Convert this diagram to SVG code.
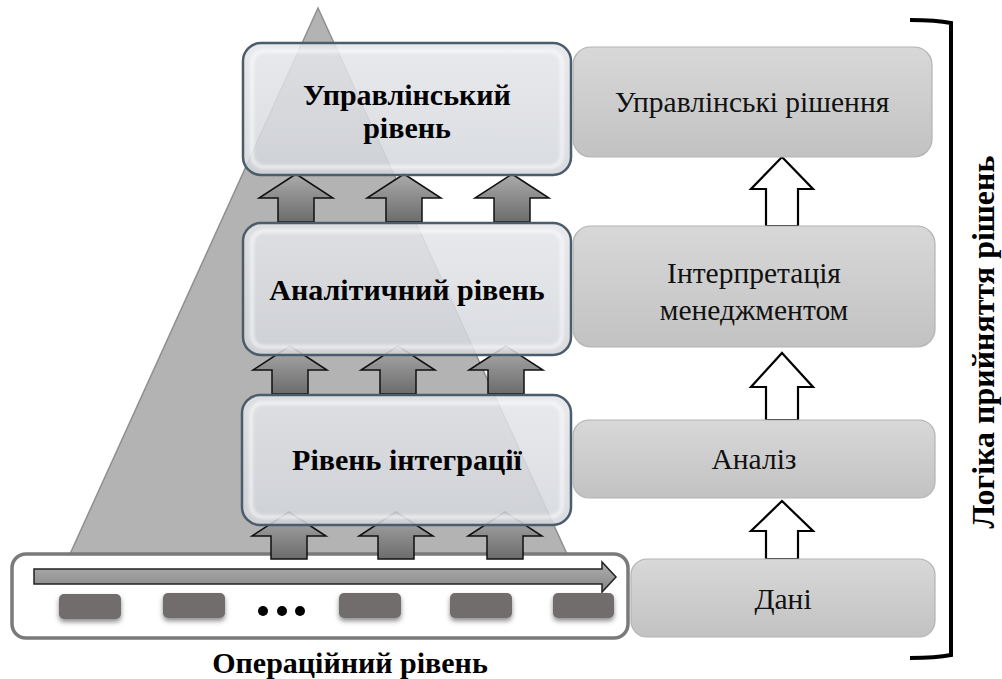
<svg xmlns="http://www.w3.org/2000/svg" width="1002" height="679" viewBox="0 0 1002 679">
<defs>
<linearGradient id="gArrow" x1="0" y1="0" x2="0" y2="1">
<stop offset="0" stop-color="#ababab"/>
<stop offset="1" stop-color="#6c6c6c"/>
</linearGradient>
<linearGradient id="gFlow" x1="0" y1="0" x2="0" y2="1">
<stop offset="0" stop-color="#b0b0b0"/>
<stop offset="1" stop-color="#858585"/>
</linearGradient>
<linearGradient id="gLeft" x1="0" y1="0" x2="0" y2="1">
<stop offset="0" stop-color="#e4e6ea"/>
<stop offset="1" stop-color="#d3d6db"/>
</linearGradient>
<linearGradient id="gRight" x1="0" y1="0" x2="0" y2="1">
<stop offset="0" stop-color="#d8d8d8"/>
<stop offset="1" stop-color="#c2c2c2"/>
</linearGradient>
<filter id="shadow" x="-20%" y="-30%" width="140%" height="180%">
<feDropShadow dx="0" dy="3" stdDeviation="2.5" flood-color="#000" flood-opacity="0.45"/>
</filter>
<filter id="soft" x="-5%" y="-5%" width="110%" height="110%">
<feGaussianBlur stdDeviation="1.5"/>
</filter>
</defs>
<style>
.lbox{fill:url(#gLeft);fill-opacity:0.86;stroke:#4d5c6b;stroke-width:2.5}
.lglow{fill:none;stroke:#ffffff;stroke-opacity:0.55;stroke-width:4}
.rbox{fill:url(#gRight);stroke:#b3b3b3;stroke-width:1.2}
.garrow{fill:url(#gArrow);stroke:#111;stroke-width:1.5;stroke-linejoin:miter}
.warrow{fill:#fff;stroke:#000;stroke-width:2.2;stroke-linejoin:miter}
.bold{font-family:'Liberation Serif','DejaVu Serif',serif;font-weight:bold;font-size:30px;fill:#000;text-anchor:middle}
.reg{font-family:'Liberation Serif','DejaVu Serif',serif;font-size:29.5px;fill:#111;text-anchor:middle}
.vert{font-size:32px}
.chip{fill:#716d6d}
</style>

<g id="pyramid">
<polygon points="318,8 70,554 567,554" fill="#b3b3b3" stroke="#8f8f8f" stroke-width="1.5"/>
</g>

<g id="operational">
<rect x="12" y="554" width="616" height="84" rx="14" fill="#fff" stroke="#7a7a7a" stroke-width="3.5"/>
<path d="M34,569 L602,569 L602,562 L616,577 L602,592 L602,584 L34,584 Z" fill="url(#gFlow)" stroke="#222" stroke-width="1.5"/>
<g filter="url(#shadow)">
<rect class="chip" x="59" y="594" width="62" height="25" rx="5"/>
<rect class="chip" x="163" y="593" width="62" height="25" rx="5"/>
<rect class="chip" x="339" y="593" width="62" height="25" rx="5"/>
<rect class="chip" x="450" y="593" width="62" height="25" rx="5"/>
<rect class="chip" x="553" y="593" width="61" height="25" rx="5"/>
</g>
<circle cx="263" cy="611" r="5"/>
<circle cx="282" cy="611" r="5"/>
<circle cx="300" cy="611" r="5"/>
<text class="bold" x="350" y="673">Операційний рівень</text>
</g>

<g id="connectors">
<path class="garrow" d="M296,174 L333,198 L314,198 L314,222 L278,222 L278,198 L259,198 Z"/>
<path class="garrow" d="M404,174 L441,198 L422,198 L422,222 L386,222 L386,198 L367,198 Z"/>
<path class="garrow" d="M512,174 L549,198 L530,198 L530,222 L494,222 L494,198 L475,198 Z"/>
<path class="garrow" d="M290,346 L327,370 L308,370 L308,394 L272,394 L272,370 L253,370 Z"/>
<path class="garrow" d="M398,346 L435,370 L416,370 L416,394 L380,394 L380,370 L361,370 Z"/>
<path class="garrow" d="M506,346 L543,370 L524,370 L524,394 L488,394 L488,370 L469,370 Z"/>
<path class="garrow" d="M289,512 L326,536 L307,536 L307,559 L271,559 L271,536 L252,536 Z"/>
<path class="garrow" d="M396,512 L433,536 L414,536 L414,559 L378,559 L378,536 L359,536 Z"/>
<path class="garrow" d="M505,512 L542,536 L523,536 L523,559 L487,559 L487,536 L468,536 Z"/>
<path class="warrow" d="M782,157 L813,189 L798,189 L798,226 L766,226 L766,189 L751,189 Z"/>
<path class="warrow" d="M782,353 L813,387 L798,387 L798,420 L766,420 L766,387 L751,387 Z"/>
<path class="warrow" d="M782,501 L813,531 L798,531 L798,559 L766,559 L766,531 L751,531 Z"/>
</g>

<g id="level-management">
<rect class="lbox" x="243" y="43" width="328" height="132" rx="18"/>
<rect class="lglow" x="252" y="51" width="310" height="116" rx="12" filter="url(#soft)"/>
<text class="bold" x="407" y="105">Управлінський</text>
<text class="bold" x="407" y="138">рівень</text>
</g>

<g id="level-analytic">
<rect class="lbox" x="243" y="223" width="328" height="132" rx="18"/>
<rect class="lglow" x="252" y="231" width="310" height="116" rx="12" filter="url(#soft)"/>
<text class="bold" x="407" y="300">Аналітичний рівень</text>
</g>

<g id="level-integration">
<rect class="lbox" x="242" y="395" width="329" height="130" rx="18"/>
<rect class="lglow" x="251" y="403" width="311" height="114" rx="12" filter="url(#soft)"/>
<text class="bold" x="407" y="470">Рівень інтеграції</text>
</g>

<g id="decisions">
<rect class="rbox" x="573" y="47" width="359" height="110" rx="18"/>
<text class="reg" x="752" y="112">Управлінські рішення</text>
</g>

<g id="interpretation">
<rect class="rbox" x="573" y="226" width="362" height="121" rx="18"/>
<text class="reg" x="754" y="283">Інтерпретація</text>
<text class="reg" x="754" y="320">менеджментом</text>
</g>

<g id="analysis">
<rect class="rbox" x="573" y="420" width="362" height="78" rx="16"/>
<text class="reg" x="754" y="469">Аналіз</text>
</g>

<g id="data">
<rect class="rbox" x="631" y="559" width="304" height="78" rx="16"/>
<text class="reg" x="783" y="609">Дані</text>
</g>

<g id="bracket">
<path d="M910,20 Q936,20 951,23 L951,655 Q936,658 910,658" fill="none" stroke="#000" stroke-width="4"/>
<text class="bold vert" x="994" y="342" transform="rotate(-90 994 342)">Логіка прийняття рішень</text>
</g>
</svg>
